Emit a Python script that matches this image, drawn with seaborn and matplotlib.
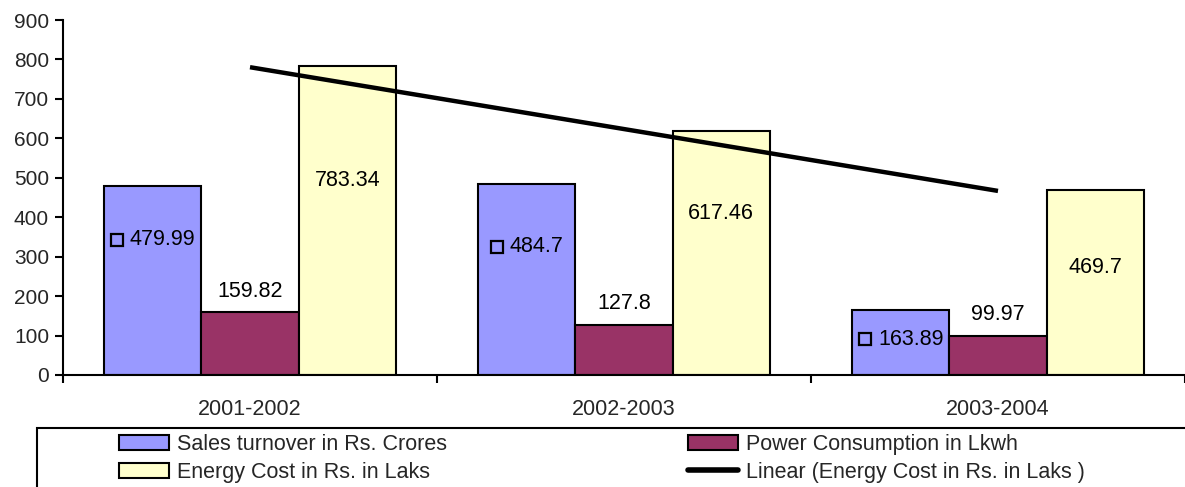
import numpy as np
import pandas as pd
import matplotlib
matplotlib.use("Agg")
import matplotlib.pyplot as plt
import seaborn as sns
from matplotlib.patches import Rectangle
from matplotlib.lines import Line2D
from matplotlib.ticker import FixedLocator
from matplotlib.transforms import offset_copy

# data
years = ["2001-2002", "2002-2003", "2003-2004"]
series_names = ["Sales turnover in Rs. Crores",
                "Power Consumption in Lkwh",
                "Energy Cost in Rs. in Laks"]
sales = [479.99, 484.7, 163.89]
power = [159.82, 127.8, 99.97]
energy = [783.34, 617.46, 469.7]
trend_label = "Linear (Energy Cost in Rs. in Laks )"
colors = ["#9999FF", "#993366", "#FFFFCC"]

# label heights (label placement only)
sales_label_y = [343, 325, 91]
energy_label_y = [492, 409, 272]

df = pd.DataFrame({
    "year": years * 3,
    "series": [series_names[0]] * 3 + [series_names[1]] * 3 + [series_names[2]] * 3,
    "value": sales + power + energy,
})

sns.set_theme(style="white")
plt.rcParams["font.family"] = ["Liberation Sans", "DejaVu Sans"]

fig = plt.figure(figsize=(11.85, 4.87), dpi=100)
ax = fig.add_axes([63 / 1185, 1 - 375 / 487, 1 - 63 / 1185, (375 - 20) / 487])

sns.barplot(data=df, x="year", y="value", hue="series", palette=colors,
            width=0.78, edgecolor="black", linewidth=1.5, saturation=1,
            ax=ax, legend=False)

# linear trend of energy cost
xs = np.arange(len(years))
k, b = np.polyfit(xs, energy, 1)
ax.plot(xs, k * xs + b, color="black", linewidth=3.2, solid_capstyle="butt")

# data labels
fs = 15.5
renderer = fig.canvas.get_renderer()
px = 72 / fig.dpi  # pixels -> points
key_w, key_gap = 14, 6
for i, bar in enumerate(ax.containers[0]):
    cx = bar.get_x() + bar.get_width() / 2
    txt = ax.text(cx, sales_label_y[i], f"{sales[i]:g}", ha="left", va="center",
                  fontsize=fs, color="black")
    w = txt.get_window_extent(renderer=renderer).width
    left = -(key_w + key_gap + w) / 2
    txt.set_transform(offset_copy(ax.transData, fig=fig, x=(left + key_w + key_gap) * px,
                                  y=0, units="points"))
    ax.plot([cx], [sales_label_y[i]], marker="s", markersize=9, markerfacecolor="none",
            markeredgecolor="black", markeredgewidth=1.6,
            transform=offset_copy(ax.transData, fig=fig, x=(left + key_w / 2) * px,
                                  y=0, units="points"))
for i, bar in enumerate(ax.containers[1]):
    cx = bar.get_x() + bar.get_width() / 2
    ax.text(cx, power[i] + 53, f"{power[i]:g}", ha="center", va="center",
            fontsize=fs, color="black")
for i, bar in enumerate(ax.containers[2]):
    cx = bar.get_x() + bar.get_width() / 2
    ax.text(cx, energy_label_y[i], f"{energy[i]:g}", ha="center", va="center",
            fontsize=fs, color="black")

ax.set_xlim(-0.5, 2.5)
ax.set_ylim(0, 900)
ax.set_yticks(range(0, 901, 100))
ax.set_xlabel("")
ax.set_ylabel("")
for side in ["top", "right"]:
    ax.spines[side].set_visible(False)
for side in ["left", "bottom"]:
    ax.spines[side].set_color("black")
    ax.spines[side].set_linewidth(1.5)
ax.tick_params(axis="y", which="major", direction="out", length=6, width=1.5,
               color="black", labelsize=15, pad=4, left=True)
ax.tick_params(axis="x", which="major", length=0, labelsize=15.5, pad=17)
ax.xaxis.set_minor_locator(FixedLocator([-0.5, 0.5, 1.5, 2.5]))
ax.tick_params(axis="x", which="minor", direction="out", length=6, width=1.5,
               color="black", bottom=True)
ax.grid(False)

# legend box
fig.patches.append(Rectangle((37 / 1185, -0.01), 1.0, (487 - 428) / 487 + 0.01,
                             transform=fig.transFigure, facecolor="white",
                             edgecolor="black", linewidth=1.5))
handles = [
    Rectangle((0, 0), 1, 1, facecolor=colors[0], edgecolor="black", linewidth=1.5),
    Rectangle((0, 0), 1, 1, facecolor=colors[2], edgecolor="black", linewidth=1.5),
    Rectangle((0, 0), 1, 1, facecolor=colors[1], edgecolor="black", linewidth=1.5),
    Line2D([0], [0], color="black", linewidth=4),
]
labels = [series_names[0], series_names[2], series_names[1], trend_label]
fig.legend(handles, labels, ncol=2, loc="upper left",
           bbox_to_anchor=(119 / 1185, 1 - 434 / 487), frameon=False,
           fontsize=15.5, handlelength=2.3, handletextpad=0.4,
           columnspacing=11.2, labelspacing=0.32, borderaxespad=0, borderpad=0)

fig.savefig("out.png", dpi=100, facecolor="white")
